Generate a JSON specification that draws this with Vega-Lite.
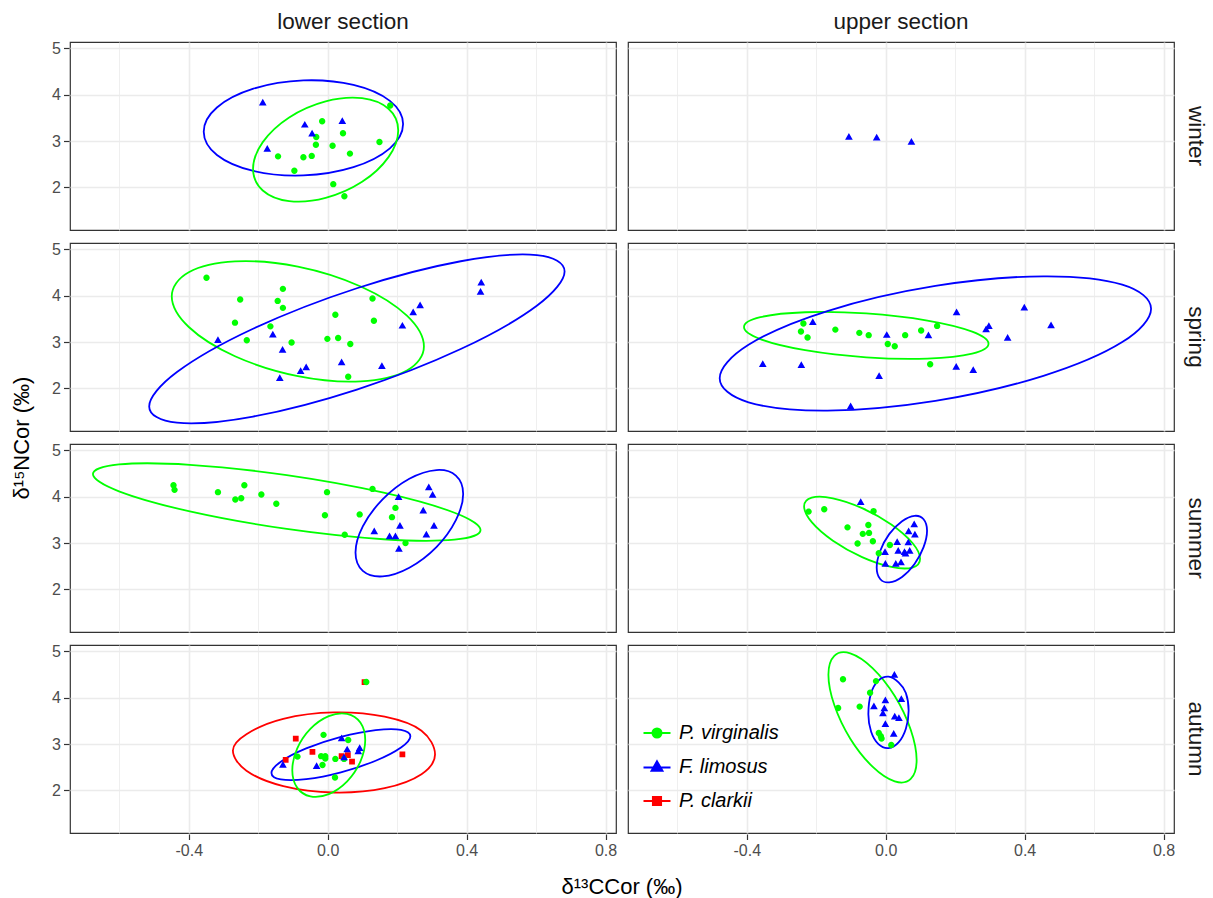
{
"$schema": "https://vega.github.io/schema/vega-lite/v6.json",
"padding": {"left": 10, "top": 10, "right": 5, "bottom": 0},
"background": "white",
"data": {"values": [
{"s":"lower section","z":"winter","sp":"F. limosus","k":"e","i":0,"x":0.217,"y":3.367},
{"s":"lower section","z":"winter","sp":"F. limosus","k":"e","i":1,"x":0.179,"y":2.844},
{"s":"lower section","z":"winter","sp":"F. limosus","k":"e","i":2,"x":0.074,"y":2.438},
{"s":"lower section","z":"winter","sp":"F. limosus","k":"e","i":3,"x":-0.070,"y":2.259},
{"s":"lower section","z":"winter","sp":"F. limosus","k":"e","i":4,"x":-0.214,"y":2.356},
{"s":"lower section","z":"winter","sp":"F. limosus","k":"e","i":5,"x":-0.319,"y":2.701},
{"s":"lower section","z":"winter","sp":"F. limosus","k":"e","i":6,"x":-0.357,"y":3.203},
{"s":"lower section","z":"winter","sp":"F. limosus","k":"e","i":7,"x":-0.319,"y":3.726},
{"s":"lower section","z":"winter","sp":"F. limosus","k":"e","i":8,"x":-0.214,"y":4.132},
{"s":"lower section","z":"winter","sp":"F. limosus","k":"e","i":9,"x":-0.070,"y":4.311},
{"s":"lower section","z":"winter","sp":"F. limosus","k":"e","i":10,"x":0.074,"y":4.214},
{"s":"lower section","z":"winter","sp":"F. limosus","k":"e","i":11,"x":0.179,"y":3.869},
{"s":"lower section","z":"winter","sp":"P. virginalis","k":"e","i":0,"x":0.203,"y":3.231},
{"s":"lower section","z":"winter","sp":"P. virginalis","k":"e","i":1,"x":0.175,"y":2.654},
{"s":"lower section","z":"winter","sp":"P. virginalis","k":"e","i":2,"x":0.099,"y":2.120},
{"s":"lower section","z":"winter","sp":"P. virginalis","k":"e","i":3,"x":-0.006,"y":1.773},
{"s":"lower section","z":"winter","sp":"P. virginalis","k":"e","i":4,"x":-0.111,"y":1.704},
{"s":"lower section","z":"winter","sp":"P. virginalis","k":"e","i":5,"x":-0.187,"y":1.934},
{"s":"lower section","z":"winter","sp":"P. virginalis","k":"e","i":6,"x":-0.215,"y":2.401},
{"s":"lower section","z":"winter","sp":"P. virginalis","k":"e","i":7,"x":-0.187,"y":2.978},
{"s":"lower section","z":"winter","sp":"P. virginalis","k":"e","i":8,"x":-0.111,"y":3.512},
{"s":"lower section","z":"winter","sp":"P. virginalis","k":"e","i":9,"x":-0.006,"y":3.859},
{"s":"lower section","z":"winter","sp":"P. virginalis","k":"e","i":10,"x":0.099,"y":3.928},
{"s":"lower section","z":"winter","sp":"P. virginalis","k":"e","i":11,"x":0.175,"y":3.698},
{"s":"lower section","z":"spring","sp":"P. virginalis","k":"e","i":0,"x":0.277,"y":2.906},
{"s":"lower section","z":"spring","sp":"P. virginalis","k":"e","i":1,"x":0.228,"y":2.387},
{"s":"lower section","z":"spring","sp":"P. virginalis","k":"e","i":2,"x":0.095,"y":2.153},
{"s":"lower section","z":"spring","sp":"P. virginalis","k":"e","i":3,"x":-0.086,"y":2.266},
{"s":"lower section","z":"spring","sp":"P. virginalis","k":"e","i":4,"x":-0.267,"y":2.695},
{"s":"lower section","z":"spring","sp":"P. virginalis","k":"e","i":5,"x":-0.400,"y":3.326},
{"s":"lower section","z":"spring","sp":"P. virginalis","k":"e","i":6,"x":-0.449,"y":3.990},
{"s":"lower section","z":"spring","sp":"P. virginalis","k":"e","i":7,"x":-0.400,"y":4.509},
{"s":"lower section","z":"spring","sp":"P. virginalis","k":"e","i":8,"x":-0.267,"y":4.743},
{"s":"lower section","z":"spring","sp":"P. virginalis","k":"e","i":9,"x":-0.086,"y":4.630},
{"s":"lower section","z":"spring","sp":"P. virginalis","k":"e","i":10,"x":0.095,"y":4.201},
{"s":"lower section","z":"spring","sp":"P. virginalis","k":"e","i":11,"x":0.228,"y":3.570},
{"s":"lower section","z":"spring","sp":"F. limosus","k":"e","i":0,"x":0.682,"y":4.527},
{"s":"lower section","z":"spring","sp":"F. limosus","k":"e","i":1,"x":0.602,"y":3.785},
{"s":"lower section","z":"spring","sp":"F. limosus","k":"e","i":2,"x":0.383,"y":2.850},
{"s":"lower section","z":"spring","sp":"F. limosus","k":"e","i":3,"x":0.084,"y":1.975},
{"s":"lower section","z":"spring","sp":"F. limosus","k":"e","i":4,"x":-0.215,"y":1.392},
{"s":"lower section","z":"spring","sp":"F. limosus","k":"e","i":5,"x":-0.434,"y":1.259},
{"s":"lower section","z":"spring","sp":"F. limosus","k":"e","i":6,"x":-0.514,"y":1.611},
{"s":"lower section","z":"spring","sp":"F. limosus","k":"e","i":7,"x":-0.434,"y":2.353},
{"s":"lower section","z":"spring","sp":"F. limosus","k":"e","i":8,"x":-0.215,"y":3.288},
{"s":"lower section","z":"spring","sp":"F. limosus","k":"e","i":9,"x":0.084,"y":4.163},
{"s":"lower section","z":"spring","sp":"F. limosus","k":"e","i":10,"x":0.383,"y":4.746},
{"s":"lower section","z":"spring","sp":"F. limosus","k":"e","i":11,"x":0.602,"y":4.879},
{"s":"upper section","z":"spring","sp":"P. virginalis","k":"e","i":0,"x":0.296,"y":2.964},
{"s":"upper section","z":"spring","sp":"P. virginalis","k":"e","i":1,"x":0.249,"y":2.752},
{"s":"upper section","z":"spring","sp":"P. virginalis","k":"e","i":2,"x":0.120,"y":2.645},
{"s":"upper section","z":"spring","sp":"P. virginalis","k":"e","i":3,"x":-0.056,"y":2.672},
{"s":"upper section","z":"spring","sp":"P. virginalis","k":"e","i":4,"x":-0.232,"y":2.826},
{"s":"upper section","z":"spring","sp":"P. virginalis","k":"e","i":5,"x":-0.361,"y":3.065},
{"s":"upper section","z":"spring","sp":"P. virginalis","k":"e","i":6,"x":-0.408,"y":3.326},
{"s":"upper section","z":"spring","sp":"P. virginalis","k":"e","i":7,"x":-0.361,"y":3.538},
{"s":"upper section","z":"spring","sp":"P. virginalis","k":"e","i":8,"x":-0.232,"y":3.645},
{"s":"upper section","z":"spring","sp":"P. virginalis","k":"e","i":9,"x":-0.056,"y":3.618},
{"s":"upper section","z":"spring","sp":"P. virginalis","k":"e","i":10,"x":0.120,"y":3.464},
{"s":"upper section","z":"spring","sp":"P. virginalis","k":"e","i":11,"x":0.249,"y":3.225},
{"s":"upper section","z":"spring","sp":"F. limosus","k":"e","i":0,"x":0.764,"y":3.721},
{"s":"upper section","z":"spring","sp":"F. limosus","k":"e","i":1,"x":0.681,"y":3.000},
{"s":"upper section","z":"spring","sp":"F. limosus","k":"e","i":2,"x":0.454,"y":2.271},
{"s":"upper section","z":"spring","sp":"F. limosus","k":"e","i":3,"x":0.143,"y":1.729},
{"s":"upper section","z":"spring","sp":"F. limosus","k":"e","i":4,"x":-0.168,"y":1.521},
{"s":"upper section","z":"spring","sp":"F. limosus","k":"e","i":5,"x":-0.395,"y":1.700},
{"s":"upper section","z":"spring","sp":"F. limosus","k":"e","i":6,"x":-0.478,"y":2.221},
{"s":"upper section","z":"spring","sp":"F. limosus","k":"e","i":7,"x":-0.395,"y":2.942},
{"s":"upper section","z":"spring","sp":"F. limosus","k":"e","i":8,"x":-0.168,"y":3.671},
{"s":"upper section","z":"spring","sp":"F. limosus","k":"e","i":9,"x":0.143,"y":4.213},
{"s":"upper section","z":"spring","sp":"F. limosus","k":"e","i":10,"x":0.454,"y":4.421},
{"s":"upper section","z":"spring","sp":"F. limosus","k":"e","i":11,"x":0.681,"y":4.242},
{"s":"lower section","z":"summer","sp":"P. virginalis","k":"e","i":0,"x":0.440,"y":3.284},
{"s":"lower section","z":"summer","sp":"P. virginalis","k":"e","i":1,"x":0.365,"y":3.075},
{"s":"lower section","z":"summer","sp":"P. virginalis","k":"e","i":2,"x":0.161,"y":3.083},
{"s":"lower section","z":"summer","sp":"P. virginalis","k":"e","i":3,"x":-0.118,"y":3.306},
{"s":"lower section","z":"summer","sp":"P. virginalis","k":"e","i":4,"x":-0.397,"y":3.685},
{"s":"lower section","z":"summer","sp":"P. virginalis","k":"e","i":5,"x":-0.601,"y":4.118},
{"s":"lower section","z":"summer","sp":"P. virginalis","k":"e","i":6,"x":-0.676,"y":4.490},
{"s":"lower section","z":"summer","sp":"P. virginalis","k":"e","i":7,"x":-0.601,"y":4.699},
{"s":"lower section","z":"summer","sp":"P. virginalis","k":"e","i":8,"x":-0.397,"y":4.691},
{"s":"lower section","z":"summer","sp":"P. virginalis","k":"e","i":9,"x":-0.118,"y":4.468},
{"s":"lower section","z":"summer","sp":"P. virginalis","k":"e","i":10,"x":0.161,"y":4.089},
{"s":"lower section","z":"summer","sp":"P. virginalis","k":"e","i":11,"x":0.365,"y":3.656},
{"s":"lower section","z":"summer","sp":"F. limosus","k":"e","i":0,"x":0.390,"y":4.062},
{"s":"lower section","z":"summer","sp":"F. limosus","k":"e","i":1,"x":0.369,"y":3.497},
{"s":"lower section","z":"summer","sp":"F. limosus","k":"e","i":2,"x":0.313,"y":2.914},
{"s":"lower section","z":"summer","sp":"F. limosus","k":"e","i":3,"x":0.235,"y":2.469},
{"s":"lower section","z":"summer","sp":"F. limosus","k":"e","i":4,"x":0.158,"y":2.281},
{"s":"lower section","z":"summer","sp":"F. limosus","k":"e","i":5,"x":0.101,"y":2.401},
{"s":"lower section","z":"summer","sp":"F. limosus","k":"e","i":6,"x":0.080,"y":2.797},
{"s":"lower section","z":"summer","sp":"F. limosus","k":"e","i":7,"x":0.101,"y":3.361},
{"s":"lower section","z":"summer","sp":"F. limosus","k":"e","i":8,"x":0.158,"y":3.944},
{"s":"lower section","z":"summer","sp":"F. limosus","k":"e","i":9,"x":0.235,"y":4.389},
{"s":"lower section","z":"summer","sp":"F. limosus","k":"e","i":10,"x":0.313,"y":4.577},
{"s":"lower section","z":"summer","sp":"F. limosus","k":"e","i":11,"x":0.369,"y":4.457},
{"s":"upper section","z":"summer","sp":"P. virginalis","k":"e","i":0,"x":0.099,"y":2.661},
{"s":"upper section","z":"summer","sp":"P. virginalis","k":"e","i":1,"x":0.077,"y":2.472},
{"s":"upper section","z":"summer","sp":"P. virginalis","k":"e","i":2,"x":0.016,"y":2.486},
{"s":"upper section","z":"summer","sp":"P. virginalis","k":"e","i":3,"x":-0.068,"y":2.698},
{"s":"upper section","z":"summer","sp":"P. virginalis","k":"e","i":4,"x":-0.152,"y":3.052},
{"s":"upper section","z":"summer","sp":"P. virginalis","k":"e","i":5,"x":-0.213,"y":3.452},
{"s":"upper section","z":"summer","sp":"P. virginalis","k":"e","i":6,"x":-0.235,"y":3.793},
{"s":"upper section","z":"summer","sp":"P. virginalis","k":"e","i":7,"x":-0.213,"y":3.982},
{"s":"upper section","z":"summer","sp":"P. virginalis","k":"e","i":8,"x":-0.152,"y":3.968},
{"s":"upper section","z":"summer","sp":"P. virginalis","k":"e","i":9,"x":-0.068,"y":3.756},
{"s":"upper section","z":"summer","sp":"P. virginalis","k":"e","i":10,"x":0.016,"y":3.403},
{"s":"upper section","z":"summer","sp":"P. virginalis","k":"e","i":11,"x":0.077,"y":3.002},
{"s":"upper section","z":"summer","sp":"F. limosus","k":"e","i":0,"x":0.119,"y":3.267},
{"s":"upper section","z":"summer","sp":"F. limosus","k":"e","i":1,"x":0.109,"y":2.912},
{"s":"upper section","z":"summer","sp":"F. limosus","k":"e","i":2,"x":0.083,"y":2.547},
{"s":"upper section","z":"summer","sp":"F. limosus","k":"e","i":3,"x":0.047,"y":2.268},
{"s":"upper section","z":"summer","sp":"F. limosus","k":"e","i":4,"x":0.010,"y":2.151},
{"s":"upper section","z":"summer","sp":"F. limosus","k":"e","i":5,"x":-0.016,"y":2.225},
{"s":"upper section","z":"summer","sp":"F. limosus","k":"e","i":6,"x":-0.026,"y":2.473},
{"s":"upper section","z":"summer","sp":"F. limosus","k":"e","i":7,"x":-0.016,"y":2.828},
{"s":"upper section","z":"summer","sp":"F. limosus","k":"e","i":8,"x":0.010,"y":3.193},
{"s":"upper section","z":"summer","sp":"F. limosus","k":"e","i":9,"x":0.047,"y":3.472},
{"s":"upper section","z":"summer","sp":"F. limosus","k":"e","i":10,"x":0.083,"y":3.589},
{"s":"upper section","z":"summer","sp":"F. limosus","k":"e","i":11,"x":0.109,"y":3.515},
{"s":"lower section","z":"autumn","sp":"P. clarkii","k":"e","i":0,"x":0.309,"y":2.777},
{"s":"lower section","z":"autumn","sp":"P. clarkii","k":"e","i":1,"x":0.270,"y":2.350},
{"s":"lower section","z":"autumn","sp":"P. clarkii","k":"e","i":2,"x":0.164,"y":2.049},
{"s":"lower section","z":"autumn","sp":"P. clarkii","k":"e","i":3,"x":0.018,"y":1.955},
{"s":"lower section","z":"autumn","sp":"P. clarkii","k":"e","i":4,"x":-0.128,"y":2.093},
{"s":"lower section","z":"autumn","sp":"P. clarkii","k":"e","i":5,"x":-0.234,"y":2.425},
{"s":"lower section","z":"autumn","sp":"P. clarkii","k":"e","i":6,"x":-0.273,"y":2.863},
{"s":"lower section","z":"autumn","sp":"P. clarkii","k":"e","i":7,"x":-0.234,"y":3.215},
{"s":"lower section","z":"autumn","sp":"P. clarkii","k":"e","i":8,"x":-0.128,"y":3.547},
{"s":"lower section","z":"autumn","sp":"P. clarkii","k":"e","i":9,"x":0.018,"y":3.685},
{"s":"lower section","z":"autumn","sp":"P. clarkii","k":"e","i":10,"x":0.164,"y":3.591},
{"s":"lower section","z":"autumn","sp":"P. clarkii","k":"e","i":11,"x":0.270,"y":3.290},
{"s":"lower section","z":"autumn","sp":"F. limosus","k":"e","i":0,"x":0.238,"y":3.170},
{"s":"lower section","z":"autumn","sp":"F. limosus","k":"e","i":1,"x":0.211,"y":2.926},
{"s":"lower section","z":"autumn","sp":"F. limosus","k":"e","i":2,"x":0.138,"y":2.640},
{"s":"lower section","z":"autumn","sp":"F. limosus","k":"e","i":3,"x":0.038,"y":2.390},
{"s":"lower section","z":"autumn","sp":"F. limosus","k":"e","i":4,"x":-0.062,"y":2.243},
{"s":"lower section","z":"autumn","sp":"F. limosus","k":"e","i":5,"x":-0.135,"y":2.237},
{"s":"lower section","z":"autumn","sp":"F. limosus","k":"e","i":6,"x":-0.162,"y":2.376},
{"s":"lower section","z":"autumn","sp":"F. limosus","k":"e","i":7,"x":-0.135,"y":2.620},
{"s":"lower section","z":"autumn","sp":"F. limosus","k":"e","i":8,"x":-0.062,"y":2.906},
{"s":"lower section","z":"autumn","sp":"F. limosus","k":"e","i":9,"x":0.038,"y":3.156},
{"s":"lower section","z":"autumn","sp":"F. limosus","k":"e","i":10,"x":0.138,"y":3.303},
{"s":"lower section","z":"autumn","sp":"F. limosus","k":"e","i":11,"x":0.211,"y":3.309},
{"s":"lower section","z":"autumn","sp":"P. virginalis","k":"e","i":0,"x":0.108,"y":3.087},
{"s":"lower section","z":"autumn","sp":"P. virginalis","k":"e","i":1,"x":0.094,"y":2.623},
{"s":"lower section","z":"autumn","sp":"P. virginalis","k":"e","i":2,"x":0.056,"y":2.196},
{"s":"lower section","z":"autumn","sp":"P. virginalis","k":"e","i":3,"x":0.003,"y":1.920},
{"s":"lower section","z":"autumn","sp":"P. virginalis","k":"e","i":4,"x":-0.050,"y":1.871},
{"s":"lower section","z":"autumn","sp":"P. virginalis","k":"e","i":5,"x":-0.088,"y":2.060},
{"s":"lower section","z":"autumn","sp":"P. virginalis","k":"e","i":6,"x":-0.102,"y":2.437},
{"s":"lower section","z":"autumn","sp":"P. virginalis","k":"e","i":7,"x":-0.088,"y":2.901},
{"s":"lower section","z":"autumn","sp":"P. virginalis","k":"e","i":8,"x":-0.050,"y":3.328},
{"s":"lower section","z":"autumn","sp":"P. virginalis","k":"e","i":9,"x":0.003,"y":3.604},
{"s":"lower section","z":"autumn","sp":"P. virginalis","k":"e","i":10,"x":0.056,"y":3.653},
{"s":"lower section","z":"autumn","sp":"P. virginalis","k":"e","i":11,"x":0.094,"y":3.464},
{"s":"upper section","z":"autumn","sp":"P. virginalis","k":"e","i":0,"x":0.089,"y":2.655},
{"s":"upper section","z":"autumn","sp":"P. virginalis","k":"e","i":1,"x":0.072,"y":2.247},
{"s":"upper section","z":"autumn","sp":"P. virginalis","k":"e","i":2,"x":0.026,"y":2.195},
{"s":"upper section","z":"autumn","sp":"P. virginalis","k":"e","i":3,"x":-0.038,"y":2.513},
{"s":"upper section","z":"autumn","sp":"P. virginalis","k":"e","i":4,"x":-0.102,"y":3.116},
{"s":"upper section","z":"autumn","sp":"P. virginalis","k":"e","i":5,"x":-0.148,"y":3.843},
{"s":"upper section","z":"autumn","sp":"P. virginalis","k":"e","i":6,"x":-0.165,"y":4.499},
{"s":"upper section","z":"autumn","sp":"P. virginalis","k":"e","i":7,"x":-0.148,"y":4.907},
{"s":"upper section","z":"autumn","sp":"P. virginalis","k":"e","i":8,"x":-0.102,"y":4.959},
{"s":"upper section","z":"autumn","sp":"P. virginalis","k":"e","i":9,"x":-0.038,"y":4.641},
{"s":"upper section","z":"autumn","sp":"P. virginalis","k":"e","i":10,"x":0.026,"y":4.038},
{"s":"upper section","z":"autumn","sp":"P. virginalis","k":"e","i":11,"x":0.072,"y":3.311},
{"s":"upper section","z":"autumn","sp":"F. limosus","k":"e","i":0,"x":0.066,"y":3.724},
{"s":"upper section","z":"autumn","sp":"F. limosus","k":"e","i":1,"x":0.058,"y":3.333},
{"s":"upper section","z":"autumn","sp":"F. limosus","k":"e","i":2,"x":0.037,"y":3.037},
{"s":"upper section","z":"autumn","sp":"F. limosus","k":"e","i":3,"x":0.008,"y":2.914},
{"s":"upper section","z":"autumn","sp":"F. limosus","k":"e","i":4,"x":-0.021,"y":2.998},
{"s":"upper section","z":"autumn","sp":"F. limosus","k":"e","i":5,"x":-0.042,"y":3.266},
{"s":"upper section","z":"autumn","sp":"F. limosus","k":"e","i":6,"x":-0.050,"y":3.646},
{"s":"upper section","z":"autumn","sp":"F. limosus","k":"e","i":7,"x":-0.042,"y":4.104},
{"s":"upper section","z":"autumn","sp":"F. limosus","k":"e","i":8,"x":-0.021,"y":4.372},
{"s":"upper section","z":"autumn","sp":"F. limosus","k":"e","i":9,"x":0.008,"y":4.456},
{"s":"upper section","z":"autumn","sp":"F. limosus","k":"e","i":10,"x":0.037,"y":4.333},
{"s":"upper section","z":"autumn","sp":"F. limosus","k":"e","i":11,"x":0.058,"y":4.104},
{"s":"lower section","z":"winter","sp":"P. virginalis","k":"p","x":0.180,"y":3.77},
{"s":"lower section","z":"winter","sp":"P. virginalis","k":"p","x":-0.016,"y":3.43},
{"s":"lower section","z":"winter","sp":"P. virginalis","k":"p","x":0.044,"y":3.17},
{"s":"lower section","z":"winter","sp":"P. virginalis","k":"p","x":-0.033,"y":3.09},
{"s":"lower section","z":"winter","sp":"P. virginalis","k":"p","x":-0.034,"y":2.92},
{"s":"lower section","z":"winter","sp":"P. virginalis","k":"p","x":0.014,"y":2.90},
{"s":"lower section","z":"winter","sp":"P. virginalis","k":"p","x":0.149,"y":2.98},
{"s":"lower section","z":"winter","sp":"P. virginalis","k":"p","x":0.064,"y":2.73},
{"s":"lower section","z":"winter","sp":"P. virginalis","k":"p","x":-0.143,"y":2.67},
{"s":"lower section","z":"winter","sp":"P. virginalis","k":"p","x":-0.070,"y":2.65},
{"s":"lower section","z":"winter","sp":"P. virginalis","k":"p","x":-0.046,"y":2.68},
{"s":"lower section","z":"winter","sp":"P. virginalis","k":"p","x":-0.096,"y":2.36},
{"s":"lower section","z":"winter","sp":"P. virginalis","k":"p","x":0.016,"y":2.07},
{"s":"lower section","z":"winter","sp":"P. virginalis","k":"p","x":0.048,"y":1.81},
{"s":"lower section","z":"winter","sp":"F. limosus","k":"p","x":-0.187,"y":3.83},
{"s":"lower section","z":"winter","sp":"F. limosus","k":"p","x":-0.066,"y":3.35},
{"s":"lower section","z":"winter","sp":"F. limosus","k":"p","x":-0.045,"y":3.16},
{"s":"lower section","z":"winter","sp":"F. limosus","k":"p","x":0.042,"y":3.43},
{"s":"lower section","z":"winter","sp":"F. limosus","k":"p","x":-0.174,"y":2.83},
{"s":"upper section","z":"winter","sp":"F. limosus","k":"p","x":-0.106,"y":3.09},
{"s":"upper section","z":"winter","sp":"F. limosus","k":"p","x":-0.026,"y":3.07},
{"s":"upper section","z":"winter","sp":"F. limosus","k":"p","x":0.074,"y":2.98},
{"s":"lower section","z":"spring","sp":"P. virginalis","k":"p","x":-0.349,"y":4.39},
{"s":"lower section","z":"spring","sp":"P. virginalis","k":"p","x":-0.252,"y":3.92},
{"s":"lower section","z":"spring","sp":"P. virginalis","k":"p","x":-0.129,"y":4.15},
{"s":"lower section","z":"spring","sp":"P. virginalis","k":"p","x":-0.144,"y":3.89},
{"s":"lower section","z":"spring","sp":"P. virginalis","k":"p","x":-0.129,"y":3.74},
{"s":"lower section","z":"spring","sp":"P. virginalis","k":"p","x":-0.267,"y":3.42},
{"s":"lower section","z":"spring","sp":"P. virginalis","k":"p","x":-0.165,"y":3.34},
{"s":"lower section","z":"spring","sp":"P. virginalis","k":"p","x":-0.233,"y":3.04},
{"s":"lower section","z":"spring","sp":"P. virginalis","k":"p","x":-0.104,"y":2.99},
{"s":"lower section","z":"spring","sp":"P. virginalis","k":"p","x":0.022,"y":3.59},
{"s":"lower section","z":"spring","sp":"P. virginalis","k":"p","x":0.129,"y":3.94},
{"s":"lower section","z":"spring","sp":"P. virginalis","k":"p","x":0.133,"y":3.46},
{"s":"lower section","z":"spring","sp":"P. virginalis","k":"p","x":-0.001,"y":3.07},
{"s":"lower section","z":"spring","sp":"P. virginalis","k":"p","x":0.030,"y":3.09},
{"s":"lower section","z":"spring","sp":"P. virginalis","k":"p","x":0.065,"y":2.96},
{"s":"lower section","z":"spring","sp":"P. virginalis","k":"p","x":0.059,"y":2.25},
{"s":"lower section","z":"spring","sp":"F. limosus","k":"p","x":-0.316,"y":3.04},
{"s":"lower section","z":"spring","sp":"F. limosus","k":"p","x":-0.158,"y":3.16},
{"s":"lower section","z":"spring","sp":"F. limosus","k":"p","x":-0.130,"y":2.83},
{"s":"lower section","z":"spring","sp":"F. limosus","k":"p","x":-0.062,"y":2.45},
{"s":"lower section","z":"spring","sp":"F. limosus","k":"p","x":-0.078,"y":2.37},
{"s":"lower section","z":"spring","sp":"F. limosus","k":"p","x":-0.138,"y":2.22},
{"s":"lower section","z":"spring","sp":"F. limosus","k":"p","x":0.040,"y":2.56},
{"s":"lower section","z":"spring","sp":"F. limosus","k":"p","x":0.156,"y":2.48},
{"s":"lower section","z":"spring","sp":"F. limosus","k":"p","x":0.215,"y":3.35},
{"s":"lower section","z":"spring","sp":"F. limosus","k":"p","x":0.246,"y":3.64},
{"s":"lower section","z":"spring","sp":"F. limosus","k":"p","x":0.266,"y":3.79},
{"s":"lower section","z":"spring","sp":"F. limosus","k":"p","x":0.442,"y":4.28},
{"s":"lower section","z":"spring","sp":"F. limosus","k":"p","x":0.440,"y":4.08},
{"s":"upper section","z":"spring","sp":"P. virginalis","k":"p","x":-0.237,"y":3.40},
{"s":"upper section","z":"spring","sp":"P. virginalis","k":"p","x":-0.244,"y":3.23},
{"s":"upper section","z":"spring","sp":"P. virginalis","k":"p","x":-0.225,"y":3.10},
{"s":"upper section","z":"spring","sp":"P. virginalis","k":"p","x":-0.145,"y":3.27},
{"s":"upper section","z":"spring","sp":"P. virginalis","k":"p","x":-0.076,"y":3.20},
{"s":"upper section","z":"spring","sp":"P. virginalis","k":"p","x":-0.049,"y":3.15},
{"s":"upper section","z":"spring","sp":"P. virginalis","k":"p","x":0.006,"y":2.96},
{"s":"upper section","z":"spring","sp":"P. virginalis","k":"p","x":0.026,"y":2.91},
{"s":"upper section","z":"spring","sp":"P. virginalis","k":"p","x":0.056,"y":3.15},
{"s":"upper section","z":"spring","sp":"P. virginalis","k":"p","x":0.102,"y":3.25},
{"s":"upper section","z":"spring","sp":"P. virginalis","k":"p","x":0.148,"y":3.35},
{"s":"upper section","z":"spring","sp":"P. virginalis","k":"p","x":0.128,"y":2.52},
{"s":"upper section","z":"spring","sp":"F. limosus","k":"p","x":-0.210,"y":3.43},
{"s":"upper section","z":"spring","sp":"F. limosus","k":"p","x":0.003,"y":3.15},
{"s":"upper section","z":"spring","sp":"F. limosus","k":"p","x":0.123,"y":3.14},
{"s":"upper section","z":"spring","sp":"F. limosus","k":"p","x":0.204,"y":3.64},
{"s":"upper section","z":"spring","sp":"F. limosus","k":"p","x":0.399,"y":3.74},
{"s":"upper section","z":"spring","sp":"F. limosus","k":"p","x":0.476,"y":3.36},
{"s":"upper section","z":"spring","sp":"F. limosus","k":"p","x":0.297,"y":3.34},
{"s":"upper section","z":"spring","sp":"F. limosus","k":"p","x":0.289,"y":3.27},
{"s":"upper section","z":"spring","sp":"F. limosus","k":"p","x":0.351,"y":3.09},
{"s":"upper section","z":"spring","sp":"F. limosus","k":"p","x":-0.354,"y":2.52},
{"s":"upper section","z":"spring","sp":"F. limosus","k":"p","x":-0.243,"y":2.50},
{"s":"upper section","z":"spring","sp":"F. limosus","k":"p","x":-0.019,"y":2.26},
{"s":"upper section","z":"spring","sp":"F. limosus","k":"p","x":0.203,"y":2.46},
{"s":"upper section","z":"spring","sp":"F. limosus","k":"p","x":0.252,"y":2.39},
{"s":"upper section","z":"spring","sp":"F. limosus","k":"p","x":-0.101,"y":1.61},
{"s":"lower section","z":"summer","sp":"P. virginalis","k":"p","x":-0.444,"y":4.25},
{"s":"lower section","z":"summer","sp":"P. virginalis","k":"p","x":-0.441,"y":4.15},
{"s":"lower section","z":"summer","sp":"P. virginalis","k":"p","x":-0.316,"y":4.10},
{"s":"lower section","z":"summer","sp":"P. virginalis","k":"p","x":-0.240,"y":4.25},
{"s":"lower section","z":"summer","sp":"P. virginalis","k":"p","x":-0.266,"y":3.94},
{"s":"lower section","z":"summer","sp":"P. virginalis","k":"p","x":-0.249,"y":3.97},
{"s":"lower section","z":"summer","sp":"P. virginalis","k":"p","x":-0.191,"y":4.05},
{"s":"lower section","z":"summer","sp":"P. virginalis","k":"p","x":-0.148,"y":3.85},
{"s":"lower section","z":"summer","sp":"P. virginalis","k":"p","x":-0.002,"y":4.10},
{"s":"lower section","z":"summer","sp":"P. virginalis","k":"p","x":-0.008,"y":3.60},
{"s":"lower section","z":"summer","sp":"P. virginalis","k":"p","x":0.092,"y":3.62},
{"s":"lower section","z":"summer","sp":"P. virginalis","k":"p","x":0.129,"y":4.17},
{"s":"lower section","z":"summer","sp":"P. virginalis","k":"p","x":0.195,"y":3.76},
{"s":"lower section","z":"summer","sp":"P. virginalis","k":"p","x":0.185,"y":3.56},
{"s":"lower section","z":"summer","sp":"P. virginalis","k":"p","x":0.049,"y":3.18},
{"s":"lower section","z":"summer","sp":"P. virginalis","k":"p","x":0.224,"y":3.00},
{"s":"lower section","z":"summer","sp":"F. limosus","k":"p","x":0.204,"y":3.99},
{"s":"lower section","z":"summer","sp":"F. limosus","k":"p","x":0.291,"y":4.20},
{"s":"lower section","z":"summer","sp":"F. limosus","k":"p","x":0.302,"y":4.04},
{"s":"lower section","z":"summer","sp":"F. limosus","k":"p","x":0.275,"y":3.70},
{"s":"lower section","z":"summer","sp":"F. limosus","k":"p","x":0.208,"y":3.37},
{"s":"lower section","z":"summer","sp":"F. limosus","k":"p","x":0.306,"y":3.37},
{"s":"lower section","z":"summer","sp":"F. limosus","k":"p","x":0.134,"y":3.25},
{"s":"lower section","z":"summer","sp":"F. limosus","k":"p","x":0.178,"y":3.14},
{"s":"lower section","z":"summer","sp":"F. limosus","k":"p","x":0.195,"y":3.14},
{"s":"lower section","z":"summer","sp":"F. limosus","k":"p","x":0.284,"y":3.18},
{"s":"lower section","z":"summer","sp":"F. limosus","k":"p","x":0.205,"y":2.87},
{"s":"upper section","z":"summer","sp":"P. virginalis","k":"p","x":-0.222,"y":3.68},
{"s":"upper section","z":"summer","sp":"P. virginalis","k":"p","x":-0.177,"y":3.73},
{"s":"upper section","z":"summer","sp":"P. virginalis","k":"p","x":-0.035,"y":3.69},
{"s":"upper section","z":"summer","sp":"P. virginalis","k":"p","x":-0.110,"y":3.34},
{"s":"upper section","z":"summer","sp":"P. virginalis","k":"p","x":-0.050,"y":3.39},
{"s":"upper section","z":"summer","sp":"P. virginalis","k":"p","x":-0.066,"y":3.20},
{"s":"upper section","z":"summer","sp":"P. virginalis","k":"p","x":-0.048,"y":3.22},
{"s":"upper section","z":"summer","sp":"P. virginalis","k":"p","x":-0.081,"y":2.99},
{"s":"upper section","z":"summer","sp":"P. virginalis","k":"p","x":-0.037,"y":3.04},
{"s":"upper section","z":"summer","sp":"P. virginalis","k":"p","x":0.012,"y":2.96},
{"s":"upper section","z":"summer","sp":"P. virginalis","k":"p","x":-0.020,"y":2.78},
{"s":"upper section","z":"summer","sp":"F. limosus","k":"p","x":-0.072,"y":3.88},
{"s":"upper section","z":"summer","sp":"F. limosus","k":"p","x":0.082,"y":3.40},
{"s":"upper section","z":"summer","sp":"F. limosus","k":"p","x":0.066,"y":3.25},
{"s":"upper section","z":"summer","sp":"F. limosus","k":"p","x":0.084,"y":3.18},
{"s":"upper section","z":"summer","sp":"F. limosus","k":"p","x":0.033,"y":3.02},
{"s":"upper section","z":"summer","sp":"F. limosus","k":"p","x":0.065,"y":3.01},
{"s":"upper section","z":"summer","sp":"F. limosus","k":"p","x":-0.002,"y":2.80},
{"s":"upper section","z":"summer","sp":"F. limosus","k":"p","x":0.036,"y":2.83},
{"s":"upper section","z":"summer","sp":"F. limosus","k":"p","x":0.054,"y":2.80},
{"s":"upper section","z":"summer","sp":"F. limosus","k":"p","x":0.069,"y":2.83},
{"s":"upper section","z":"summer","sp":"F. limosus","k":"p","x":0.057,"y":2.77},
{"s":"upper section","z":"summer","sp":"F. limosus","k":"p","x":-0.001,"y":2.55},
{"s":"upper section","z":"summer","sp":"F. limosus","k":"p","x":0.029,"y":2.55},
{"s":"upper section","z":"summer","sp":"F. limosus","k":"p","x":0.044,"y":2.58},
{"s":"lower section","z":"autumn","sp":"P. clarkii","k":"p","x":0.106,"y":4.34},
{"s":"lower section","z":"autumn","sp":"P. clarkii","k":"p","x":-0.092,"y":3.12},
{"s":"lower section","z":"autumn","sp":"P. clarkii","k":"p","x":-0.044,"y":2.83},
{"s":"lower section","z":"autumn","sp":"P. clarkii","k":"p","x":-0.121,"y":2.66},
{"s":"lower section","z":"autumn","sp":"P. clarkii","k":"p","x":0.040,"y":2.74},
{"s":"lower section","z":"autumn","sp":"P. clarkii","k":"p","x":0.058,"y":2.76},
{"s":"lower section","z":"autumn","sp":"P. clarkii","k":"p","x":0.070,"y":2.62},
{"s":"lower section","z":"autumn","sp":"P. clarkii","k":"p","x":0.215,"y":2.78},
{"s":"lower section","z":"autumn","sp":"P. virginalis","k":"p","x":0.111,"y":4.34},
{"s":"lower section","z":"autumn","sp":"P. virginalis","k":"p","x":-0.012,"y":3.20},
{"s":"lower section","z":"autumn","sp":"P. virginalis","k":"p","x":0.059,"y":3.09},
{"s":"lower section","z":"autumn","sp":"P. virginalis","k":"p","x":-0.087,"y":2.73},
{"s":"lower section","z":"autumn","sp":"P. virginalis","k":"p","x":-0.019,"y":2.74},
{"s":"lower section","z":"autumn","sp":"P. virginalis","k":"p","x":-0.007,"y":2.74},
{"s":"lower section","z":"autumn","sp":"P. virginalis","k":"p","x":-0.007,"y":2.69},
{"s":"lower section","z":"autumn","sp":"P. virginalis","k":"p","x":0.022,"y":2.68},
{"s":"lower section","z":"autumn","sp":"P. virginalis","k":"p","x":-0.015,"y":2.55},
{"s":"lower section","z":"autumn","sp":"P. virginalis","k":"p","x":0.021,"y":2.28},
{"s":"lower section","z":"autumn","sp":"P. virginalis","k":"p","x":0.047,"y":2.68},
{"s":"lower section","z":"autumn","sp":"F. limosus","k":"p","x":-0.129,"y":2.55},
{"s":"lower section","z":"autumn","sp":"F. limosus","k":"p","x":-0.032,"y":2.52},
{"s":"lower section","z":"autumn","sp":"F. limosus","k":"p","x":0.040,"y":3.12},
{"s":"lower section","z":"autumn","sp":"F. limosus","k":"p","x":0.056,"y":2.88},
{"s":"lower section","z":"autumn","sp":"F. limosus","k":"p","x":0.047,"y":2.71},
{"s":"lower section","z":"autumn","sp":"F. limosus","k":"p","x":0.092,"y":2.91},
{"s":"lower section","z":"autumn","sp":"F. limosus","k":"p","x":0.088,"y":2.84},
{"s":"upper section","z":"autumn","sp":"P. virginalis","k":"p","x":-0.123,"y":4.40},
{"s":"upper section","z":"autumn","sp":"P. virginalis","k":"p","x":-0.137,"y":3.78},
{"s":"upper section","z":"autumn","sp":"P. virginalis","k":"p","x":-0.075,"y":3.81},
{"s":"upper section","z":"autumn","sp":"P. virginalis","k":"p","x":-0.028,"y":4.36},
{"s":"upper section","z":"autumn","sp":"P. virginalis","k":"p","x":-0.045,"y":4.11},
{"s":"upper section","z":"autumn","sp":"P. virginalis","k":"p","x":-0.020,"y":3.24},
{"s":"upper section","z":"autumn","sp":"P. virginalis","k":"p","x":-0.014,"y":3.17},
{"s":"upper section","z":"autumn","sp":"P. virginalis","k":"p","x":-0.012,"y":3.12},
{"s":"upper section","z":"autumn","sp":"P. virginalis","k":"p","x":0.016,"y":2.98},
{"s":"upper section","z":"autumn","sp":"F. limosus","k":"p","x":0.025,"y":4.49},
{"s":"upper section","z":"autumn","sp":"F. limosus","k":"p","x":-0.001,"y":3.94},
{"s":"upper section","z":"autumn","sp":"F. limosus","k":"p","x":0.045,"y":3.97},
{"s":"upper section","z":"autumn","sp":"F. limosus","k":"p","x":-0.034,"y":3.81},
{"s":"upper section","z":"autumn","sp":"F. limosus","k":"p","x":-0.004,"y":3.77},
{"s":"upper section","z":"autumn","sp":"F. limosus","k":"p","x":-0.008,"y":3.66},
{"s":"upper section","z":"autumn","sp":"F. limosus","k":"p","x":0.026,"y":3.59},
{"s":"upper section","z":"autumn","sp":"F. limosus","k":"p","x":0.038,"y":3.56},
{"s":"upper section","z":"autumn","sp":"F. limosus","k":"p","x":-0.001,"y":3.43},
{"s":"upper section","z":"autumn","sp":"F. limosus","k":"p","x":0.023,"y":3.22}
]},
"facet": {
  "row": {"field": "z", "type": "nominal", "sort": ["winter", "spring", "summer", "autumn"], "title": "δ¹⁵NCor (‰)",
    "header": {"labelAngle": 90, "labelOrient": "right", "labelPadding": 9, "titleOrient": "left", "titleAngle": -90, "titlePadding": -15}},
  "column": {"field": "s", "type": "nominal", "sort": ["lower section", "upper section"], "title": "δ¹³CCor (‰)",
    "header": {"labelOrient": "top", "labelPadding": 8, "titleOrient": "bottom", "titlePadding": 8}}
},
"spacing": {"row": 11, "column": 10},
"spec": {
  "width": 546,
  "height": 188,
  "layer": [
    {
      "transform": [{"filter": "datum.k == 'e'"}],
      "mark": {"type": "line", "interpolate": "cardinal-closed", "strokeWidth": 1.8, "clip": true},
      "encoding": {
        "x": {"field": "x", "type": "quantitative", "title": null,
          "scale": {"domain": [-0.742, 0.830], "nice": false, "zero": false},
          "axis": {"values": [-0.6, -0.4, -0.2, 0, 0.2, 0.4, 0.6, 0.8], "labelFlush": false, "labelOverlap": false,
            "labelExpr": "abs(datum.value/0.4 - round(datum.value/0.4)) < 0.01 ? replace(format(datum.value, '.1f'), '\u2212', '-') : ''",
            "gridWidth": {"condition": {"test": "abs(datum.value/0.4 - round(datum.value/0.4)) < 0.01", "value": 1.6}, "value": 0.8},
            "tickOpacity": {"condition": {"test": "abs(datum.value/0.4 - round(datum.value/0.4)) < 0.01", "value": 1}, "value": 0}}},
        "y": {"field": "y", "type": "quantitative", "title": null,
          "scale": {"domain": [1.08, 5.14], "nice": false, "zero": false},
          "axis": {"orient": "left", "values": [2, 3, 4, 5], "format": "d", "labels": true, "ticks": true, "labelFlush": false, "labelOverlap": false, "gridWidth": 1.6}},
        "order": {"field": "i", "type": "quantitative"},
        "color": {"field": "sp", "type": "nominal",
          "scale": {"domain": ["P. virginalis", "F. limosus", "P. clarkii"], "range": ["#00FF00", "#0000FF", "#FF0000"]},
          "legend": {"title": null, "orient": "none", "legendX": 563, "legendY": 681}}
      }
    },
    {
      "transform": [{"filter": "datum.k == 'p'"}],
      "mark": {"type": "point", "filled": true, "size": 41, "opacity": 1},
      "encoding": {
        "x": {"field": "x", "type": "quantitative", "title": null},
        "y": {"field": "y", "type": "quantitative", "title": null,
          "axis": {"orient": "right", "values": [1.5, 2.5, 3.5, 4.5], "labels": false, "ticks": false, "gridWidth": 0.8}},
        "color": {"field": "sp", "type": "nominal",
          "scale": {"domain": ["P. virginalis", "F. limosus", "P. clarkii"], "range": ["#00FF00", "#0000FF", "#FF0000"]},
          "legend": {"title": null, "orient": "none", "legendX": 563, "legendY": 681}},
        "stroke": {"field": "sp", "type": "nominal",
          "scale": {"domain": ["P. virginalis", "F. limosus", "P. clarkii"], "range": ["#00FF00", "#0000FF", "#FF0000"]},
          "legend": {"title": null, "orient": "none", "legendX": 563, "legendY": 681}},
        "shape": {"field": "sp", "type": "nominal",
          "scale": {"domain": ["P. virginalis", "F. limosus", "P. clarkii"],
            "range": ["M-1,0A1,1 0 1,0 1,0A1,1 0 1,0 -1,0Z M-3,0H3", "M0,-1.25L1.2,0.85L-1.2,0.85Z M-3,0.1H3", "M-0.9,-0.9H0.9V0.9H-0.9Z M-3,0H3"]},
          "legend": {"title": null, "orient": "none", "legendX": 563, "legendY": 681}},
        "strokeWidth": {"value": 0}
      }
    }
  ]
},
"config": {
  "font": "Liberation Sans",
  "view": {"stroke": "#333333", "strokeWidth": 1.2},
  "axis": {"domain": false, "gridColor": "#EBEBEB", "tickColor": "#333333", "tickSize": 5.5, "tickWidth": 1.2,
    "labelColor": "#4D4D4D", "labelFontSize": 16, "labelFont": "Liberation Sans", "labelPadding": 3},
  "header": {"labelFont": "Liberation Sans", "labelFontSize": 22.5, "labelColor": "#1A1A1A",
    "titleFont": "Liberation Sans", "titleFontSize": 22, "titleFontWeight": "normal", "titleColor": "#000000"},
  "legend": {"labelFontSize": 20, "labelFontStyle": "italic", "labelFont": "Liberation Sans", "labelColor": "#000000",
    "symbolSize": 81, "symbolStrokeWidth": 2, "labelOffset": 12, "symbolOffset": 14, "rowPadding": 14, "padding": 0}
}
}
